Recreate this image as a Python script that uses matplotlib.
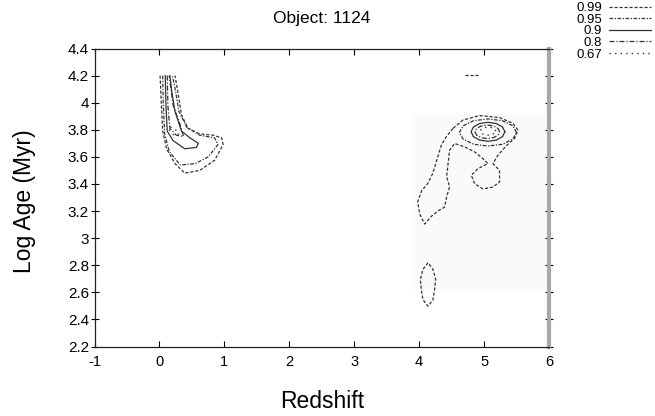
import matplotlib
matplotlib.use("Agg")
import matplotlib.pyplot as plt
from matplotlib.lines import Line2D
from matplotlib.patches import Rectangle

plt.rcParams['font.family'] = ['Liberation Sans', 'DejaVu Sans']

# ---------------- data ----------------
title = "Object: 1124"
xlabel = "Redshift"
ylabel = "Log Age (Myr)"
xticks = [-1, 0, 1, 2, 3, 4, 5, 6]
xticklabels = ["-1", "0", "1", "2", "3", "4", "5", "6"]
yticks = [2.2, 2.4, 2.6, 2.8, 3.0, 3.2, 3.4, 3.6, 3.8, 4.0, 4.2, 4.4]
yticklabels = ["2.2", "2.4", "2.6", "2.8", "3", "3.2", "3.4", "3.6", "3.8", "4", "4.2", "4.4"]
levels = ["0.99", "0.95", "0.9", "0.8", "0.67"]

# low-redshift solution (contours open at the top of the grid)
low_099_z = [0.01, 0.03, 0.05, 0.11, 0.24, 0.39, 0.62, 0.85, 0.98, 0.96, 0.83, 0.62, 0.44, 0.34, 0.29, 0.24]
low_099_a = [4.20, 3.98, 3.79, 3.66, 3.55, 3.48, 3.50, 3.575, 3.69, 3.74, 3.76, 3.77, 3.81, 3.91, 4.06, 4.20]
low_095_z = [0.05, 0.06, 0.08, 0.15, 0.32, 0.55, 0.75, 0.90, 0.85, 0.62, 0.42, 0.30, 0.25, 0.20]
low_095_a = [4.20, 3.98, 3.77, 3.64, 3.54, 3.55, 3.60, 3.69, 3.74, 3.76, 3.82, 3.935, 4.08, 4.20]
low_090_z = [0.09, 0.10, 0.12, 0.21, 0.39, 0.57, 0.60, 0.47, 0.34, 0.24, 0.19, 0.16]
low_090_a = [4.20, 3.98, 3.79, 3.72, 3.66, 3.67, 3.70, 3.74, 3.79, 3.935, 4.08, 4.20]
low_080_z = [0.12, 0.13, 0.16, 0.26, 0.37, 0.32, 0.21, 0.15]
low_080_a = [4.20, 3.98, 3.81, 3.76, 3.75, 3.835, 3.98, 4.20]
low_067_z = [0.15, 0.22, 0.30, 0.25, 0.17, 0.15]
low_067_a = [3.80, 3.76, 3.77, 3.80, 3.82, 3.80]

# high-redshift solution
high_099_z = [4.52, 4.418, 4.341, 4.208, 4.131, 4.038, 3.977, 4.008, 4.085, 4.192, 4.285, 4.392, 4.423,
              4.469, 4.423, 4.469, 4.546, 4.70, 4.854, 4.982, 5.059, 4.905, 4.803, 4.854, 4.982, 5.136,
              5.238, 5.238, 5.136, 5.213, 5.341, 5.469, 5.521, 5.444, 5.238, 4.931, 4.674, 4.52]
high_099_a = [3.81, 3.749, 3.686, 3.476, 3.402, 3.35, 3.268, 3.178, 3.104, 3.163, 3.20, 3.229, 3.305,
              3.379, 3.454, 3.65, 3.699, 3.674, 3.637, 3.587, 3.55, 3.513, 3.464, 3.402, 3.364, 3.377,
              3.414, 3.501, 3.55, 3.612, 3.682, 3.736, 3.798, 3.848, 3.890, 3.905, 3.872, 3.81]
blob_099_z = [4.136, 4.058, 4.018, 4.033, 4.058, 4.136, 4.213, 4.238, 4.254, 4.213, 4.136]
blob_099_a = [2.819, 2.769, 2.695, 2.621, 2.546, 2.497, 2.546, 2.621, 2.695, 2.769, 2.819]
top_099_z = [4.70, 4.90]
top_099_a = [4.207, 4.207]
high_095_z = [5.50, 5.441, 5.28, 5.06, 4.84, 4.679, 4.62, 4.679, 4.84, 5.06, 5.28, 5.441, 5.50]
high_095_a = [3.78, 3.83, 3.867, 3.88, 3.867, 3.83, 3.78, 3.73, 3.693, 3.68, 3.693, 3.73, 3.78]
high_090_z = [5.32, 5.285, 5.19, 5.06, 4.93, 4.835, 4.80, 4.835, 4.93, 5.06, 5.19, 5.285, 5.32]
high_090_a = [3.785, 3.82, 3.846, 3.855, 3.846, 3.82, 3.785, 3.75, 3.724, 3.715, 3.724, 3.75, 3.785]
high_080_z = [5.24, 5.215, 5.145, 5.05, 4.955, 4.885, 4.86, 4.885, 4.955, 5.05, 5.145, 5.215, 5.24]
high_080_a = [3.785, 3.81, 3.828, 3.835, 3.828, 3.81, 3.785, 3.76, 3.742, 3.735, 3.742, 3.76, 3.785]
high_067_z = [5.18, 5.164, 5.12, 5.06, 5.00, 4.956, 4.94, 4.956, 5.00, 5.06, 5.12, 5.164, 5.18]
high_067_a = [3.79, 3.805, 3.816, 3.82, 3.816, 3.805, 3.79, 3.775, 3.764, 3.76, 3.764, 3.775, 3.79]

# ---------------- styling ----------------
styles = {
    "0.99": dict(linestyle=(0, (2.5, 1.5)), linewidth=0.9),
    "0.95": dict(linestyle=(0, (3, 1.2, 1, 1.2)), linewidth=0.9),
    "0.9": dict(linestyle="-", linewidth=0.9),
    "0.8": dict(linestyle=(0, (4, 1.5, 1, 1.5)), linewidth=0.9),
    "0.67": dict(linestyle=(0, (1, 3)), linewidth=1.0),
}
col = "#333333"

fig = plt.figure(figsize=(6.55, 4.16), dpi=100)
ax = fig.add_axes([0.1443, 0.167, 0.6939, 0.7164])

ax.add_patch(Rectangle((3.9, 2.62), 2.1, 1.30, facecolor="#fafafa", edgecolor="none", zorder=0))

curves = [
    ("0.99", low_099_z, low_099_a), ("0.95", low_095_z, low_095_a), ("0.9", low_090_z, low_090_a),
    ("0.8", low_080_z, low_080_a), ("0.67", low_067_z, low_067_a),
    ("0.99", high_099_z, high_099_a), ("0.99", blob_099_z, blob_099_a), ("0.99", top_099_z, top_099_a),
    ("0.95", high_095_z, high_095_a), ("0.9", high_090_z, high_090_a),
    ("0.8", high_080_z, high_080_a), ("0.67", high_067_z, high_067_a),
]
for lev, zz, aa in curves:
    ax.plot(zz, aa, color=col, **styles[lev])

ax.set_xlim(-1, 6)
ax.set_ylim(2.2, 4.4)
ax.set_xticks(xticks)
ax.set_xticklabels(xticklabels)
ax.set_yticks(yticks)
ax.set_yticklabels(yticklabels)
ax.tick_params(axis="x", direction="in", length=4, width=0.8, top=True,
               labelsize=10.5, colors="black", pad=6)
ax.tick_params(axis="y", direction="inout", length=6, width=0.8, right=True,
               labelsize=11, colors="black", pad=1)
for s in ["left", "bottom", "top"]:
    ax.spines[s].set_linewidth(0.9)
    ax.spines[s].set_color("#222222")
ax.spines["right"].set_linewidth(3)
ax.spines["right"].set_color("#a8a8a8")

fig.text(321.7 / 655, 1 - 19 / 416, title, ha="center", va="center", fontsize=12.5)
fig.text(321.7 / 655, 1 - 402 / 416, xlabel, ha="center", va="center", fontsize=16.5)
fig.text(24 / 655, 1 - 201 / 416, ylabel, ha="center", va="center", rotation=90, fontsize=16.5)

handles = [Line2D([0], [0], color=col, **styles[l]) for l in levels]
fig.legend(handles, levels, loc="upper right", bbox_to_anchor=(651 / 655, 1 - 2 / 416), frameon=False,
           markerfirst=False, fontsize=9.5, labelspacing=-0.05, handlelength=3.2,
           handletextpad=0.5, borderpad=0.0, borderaxespad=0.0)

fig.savefig("out.png", dpi=100)
